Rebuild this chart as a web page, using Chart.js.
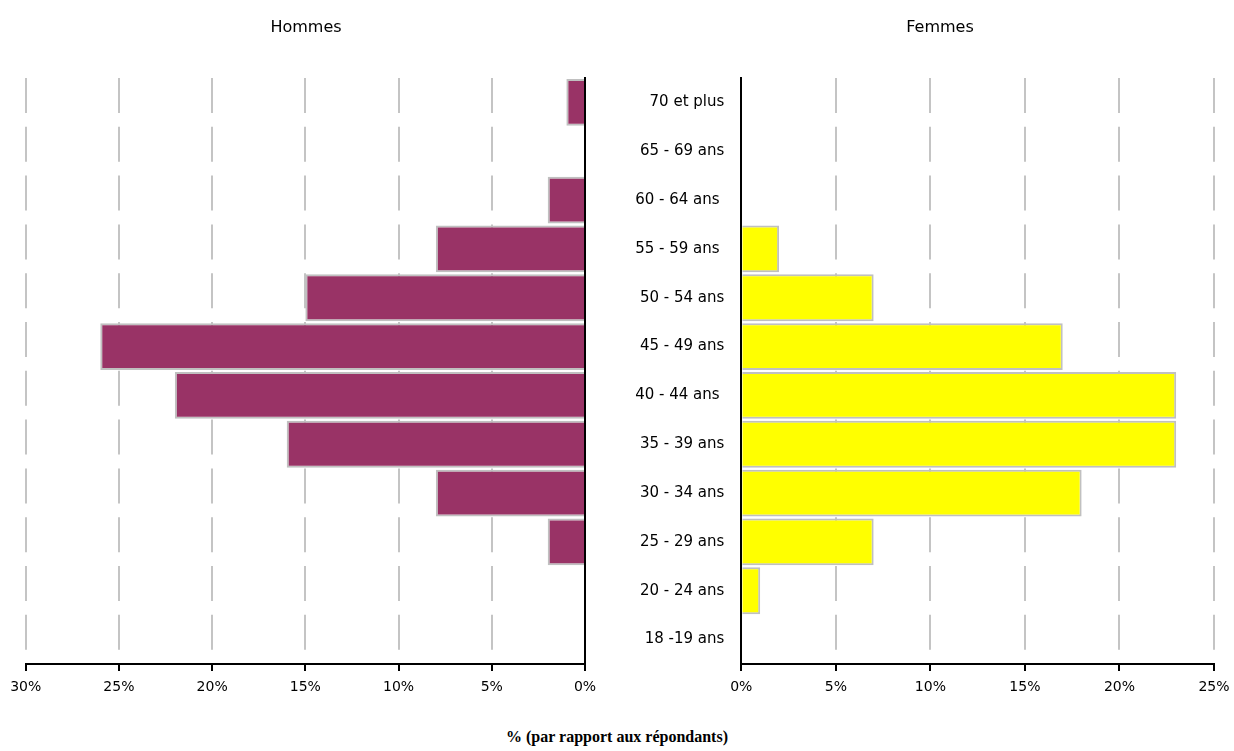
<!DOCTYPE html>
<html lang="fr">
<head>
<meta charset="utf-8">
<title>Pyramide des âges des répondants</title>
<script src="https://cdn.jsdelivr.net/npm/chart.js@4.4.1/dist/chart.umd.min.js"></script>
<style>
  html, body { margin: 0; padding: 0; background: #fff; overflow: hidden; }
  body { width: 1234px; height: 751px; position: relative; overflow: hidden; }
  canvas { position: absolute; top: 0; }
  #left { left: 0; }
  #right { left: 600px; }
  .side-title {
    position: absolute; top: 17px; width: 200px; text-align: center;
    font: 16px "DejaVu Sans", sans-serif; color: #000; line-height: 20px;
  }
  #axis-title {
    position: absolute; left: 0; width: 1234px; top: 727px; text-align: center;
    font: bold 16px "Liberation Serif", "Times New Roman", serif; color: #000; line-height: 20px;
  }
</style>
</head>
<body>
<canvas id="left" width="640" height="700"></canvas>
<canvas id="right" width="660" height="700"></canvas>
<div class="side-title" style="left:206px">Hommes</div>
<div class="side-title" style="left:840px">Femmes</div>
<div id="axis-title">% (par rapport aux répondants)</div>
<script>
// Age groups, from the oldest (top) to the youngest (bottom)
const ageGroups = [
  "70 et plus", "65 - 69 ans", "60 - 64 ans ", "55 - 59 ans ", "50 - 54 ans",
  "45 - 49 ans", "40 - 44 ans ", "35 - 39 ans", "30 - 34 ans", "25 - 29 ans",
  "20 - 24 ans", "18 -19 ans"
];
// Share of respondents in each age group (%)
const hommes = [1, 0, 2, 8, 15, 26, 22, 16, 8, 2, 0, 0];
const femmes = [0, 0, 0, 2, 7, 17, 23, 23, 18, 7, 1, 0];
// Percentage axis limits
const hommesMax = 30;
const femmesMax = 25;
const tickStep = 5;

const labelFont = { family: "DejaVu Sans", size: 15 };
const tickFont = { family: "DejaVu Sans", size: 14 };

function percentAxis(max, reverse) {
  return {
    type: "linear",
    position: "bottom",
    min: 0,
    max: max,
    reverse: reverse,
    afterFit: s => { s.height = 36; },
    ticks: {
      stepSize: tickStep,
      color: "#000",
      font: tickFont,
      padding: 8,
      maxRotation: 0,
      callback: v => v + "%"
    },
    grid: {
      color: "#c4c4c4",
      lineWidth: 2,
      drawTicks: true,
      tickLength: 7,
      tickColor: "#000",
      tickWidth: 2,
      tickBorderDash: []
    },
    border: { display: true, color: "#000", width: 2, dash: [35, 13.8] }
  };
}

const baseOptions = {
  indexAxis: "y",
  responsive: false,
  animation: false,
  events: [],
  plugins: { legend: { display: false }, tooltip: { enabled: false }, title: { display: false } }
};

// Men: bars grow to the left, axis on the right side
new Chart(document.getElementById("left"), {
  type: "bar",
  data: {
    labels: ageGroups,
    datasets: [{
      label: "Hommes",
      data: hommes,
      backgroundColor: "#993366",
      borderColor: "#c0c0c0",
      borderWidth: 2,
      barPercentage: 0.96,
      categoryPercentage: 1
    }]
  },
  options: Object.assign({}, baseOptions, {
    layout: { padding: { left: 25.7, right: 55, top: 78, bottom: 0 } },
    scales: {
      x: percentAxis(hommesMax, true),
      y: {
        type: "category",
        position: "right",
        afterFit: s => { s.width = 0; },
        ticks: { display: false },
        grid: { display: false },
        border: { display: true, color: "#000", width: 2 }
      }
    }
  })
});

// Women: bars grow to the right, age group labels on the left
new Chart(document.getElementById("right"), {
  type: "bar",
  data: {
    labels: ageGroups,
    datasets: [{
      label: "Femmes",
      data: femmes,
      backgroundColor: "#ffff00",
      borderColor: "#c0c0c0",
      borderWidth: 2,
      barPercentage: 0.96,
      categoryPercentage: 1
    }]
  },
  options: Object.assign({}, baseOptions, {
    layout: { padding: { left: 0, right: 46, top: 78, bottom: 0 } },
    scales: {
      x: percentAxis(femmesMax, false),
      y: {
        type: "category",
        position: "left",
        afterFit: s => { s.width = 141.3; },
        ticks: { color: "#000", font: labelFont, padding: 9 },
        grid: { display: false },
        border: { display: true, color: "#000", width: 2 }
      }
    }
  })
});
</script>
</body>
</html>
